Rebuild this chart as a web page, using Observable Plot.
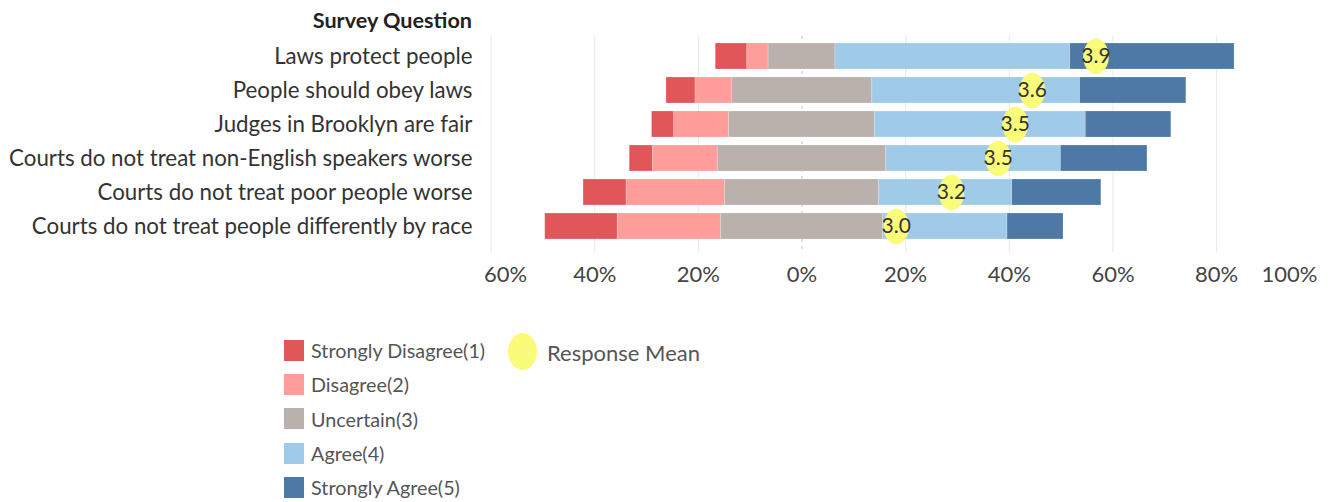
<!DOCTYPE html>
<html><head><meta charset="utf-8">
<script src="https://cdn.jsdelivr.net/npm/d3@7"></script>
<script src="https://cdn.jsdelivr.net/npm/@observablehq/plot@0.6"></script>
<style>
body{margin:0;background:#fff;font-family:Lato,"Open Sans",sans-serif;}
#wrap{position:relative;width:1337px;height:502px;overflow:hidden;background:#fff}
#chart{position:absolute;left:0;top:0}
#title{position:absolute;left:0;width:472px;top:8px;text-align:right;font-weight:bold;font-size:21.6px;color:#222;line-height:24px}
#legend{position:absolute;left:284px;top:333px}
.item{display:flex;align-items:center;height:34.3px}
.sw{width:20px;height:21px;margin-right:7px}
.lt{font-size:19.8px;color:#555;white-space:nowrap}
#meanLeg{position:absolute;left:508px;top:333px;width:29px;height:37px;border-radius:50%;background:#fbfb7a}
#meanTxt{position:absolute;left:547px;top:338px;font-size:22px;line-height:30px;color:#555;white-space:nowrap}
</style></head>
<body><div id="wrap"><div id="chart"></div><div id="title">Survey Question</div><div id="legend"></div><div id="meanLeg"></div><div id="meanTxt">Response Mean</div></div>
<script>
const questions = ["Laws protect people","People should obey laws","Judges in Brooklyn are fair","Courts do not treat non-English speakers worse","Courts do not treat poor people worse","Courts do not treat people differently by race"];
const responses = ["Strongly Disagree(1)","Disagree(2)","Uncertain(3)","Agree(4)","Strongly Agree(5)"];
const colors = ["#e15759","#ff9d9a","#bab0ac","#a0cbe8","#4e79a7"];
const stronglyDisagree = [6.1, 5.6, 4.3, 4.5, 8.3, 14.0];
const disagree = [4.1, 7.0, 10.6, 12.5, 19.0, 19.9];
const uncertain = [12.9, 27.1, 28.1, 32.5, 29.7, 31.3];
const agree = [45.3, 40.1, 40.7, 33.7, 25.7, 24.0];
const stronglyAgree = [31.7, 20.5, 16.5, 16.7, 17.2, 10.8];
const responseMean = [3.92, 3.62, 3.54, 3.46, 3.24, 2.98];
const centerTicks = [-40,-20,0,20,40,60,80];
const gridTicks = [-60,-40,-20,20,40,60,80];

const rows = [];
questions.forEach((q,i)=>{
  const vals=[stronglyDisagree[i],disagree[i],uncertain[i],agree[i],stronglyAgree[i]];
  let s = -(vals[0]+vals[1]+vals[2]/2);
  vals.forEach((v,j)=>{rows.push({question:q,response:responses[j],x1:s,x2:s+v}); s+=v;});
});
// Dual axis for the response mean (1..5 spans the pane)
const meanAxis = d3.scaleLinear().domain([1,5]).range([-63,101]);
const means = questions.map((q,i)=>({question:q,mean:responseMean[i],pos:meanAxis(responseMean[i])}));

const ellipse = {draw(ctx,size){const r=Math.sqrt(size/Math.PI),rx=r*0.72,ry=r,k=0.5523;
  ctx.moveTo(rx,0);ctx.bezierCurveTo(rx,k*ry,k*rx,ry,0,ry);ctx.bezierCurveTo(-k*rx,ry,-rx,k*ry,-rx,0);
  ctx.bezierCurveTo(-rx,-k*ry,-k*rx,-ry,0,-ry);ctx.bezierCurveTo(k*rx,-ry,rx,-k*ry,rx,0);ctx.closePath();}};
const pct = d=>Math.abs(d)+"%";

const chart = Plot.plot({
  width:1337,height:300,marginTop:36,marginBottom:48,marginLeft:475,marginRight:12,
  style:{fontFamily:'Lato,"Open Sans",sans-serif',background:"transparent"},
  x:{domain:[-63,101]},
  y:{domain:questions,paddingInner:0.225,paddingOuter:0,insetTop:6.7,insetBottom:11.8},
  color:{domain:responses,range:colors},
  marks:[
    Plot.gridX(gridTicks,{stroke:"#e8e8e8",strokeOpacity:1}),
    Plot.ruleX([0],{stroke:"#c4c4c4",strokeDasharray:"3,4"}),
    Plot.barX(rows,{y:"question",x1:"x1",x2:"x2",fill:"response",stroke:"white",strokeOpacity:0.25,strokeWidth:0.8}),
    Plot.dot(means,{x:"pos",y:"question",r:17.8,symbol:ellipse,fill:"#fbfb7a"}),
    Plot.text(means,{x:"pos",y:"question",text:d=>d.mean.toFixed(1),fontSize:21,fill:"#333"}),
    Plot.axisY({tickSize:0,tickPadding:3,fontSize:22.3,label:null,fill:"#333"}),
    Plot.axisX(centerTicks,{tickSize:0,tickPadding:14,fontSize:22,tickFormat:pct,label:null,fill:"#444"}),
    Plot.axisX([-60],{tickSize:0,tickPadding:14,fontSize:22,tickFormat:pct,label:null,fill:"#444",textAnchor:"start",dx:-7}),
    Plot.axisX([100],{tickSize:0,tickPadding:14,fontSize:22,tickFormat:pct,label:null,fill:"#444",textAnchor:"end",dx:-3})
  ]
});
document.getElementById("chart").appendChild(chart);

const leg = document.getElementById("legend");
responses.forEach((r,i)=>{
  const it=document.createElement("div");it.className="item";
  const sw=document.createElement("div");sw.className="sw";sw.style.background=colors[i];
  const t=document.createElement("span");t.className="lt";t.textContent=r;
  it.appendChild(sw);it.appendChild(t);leg.appendChild(it);
});
</script>
</body></html>
